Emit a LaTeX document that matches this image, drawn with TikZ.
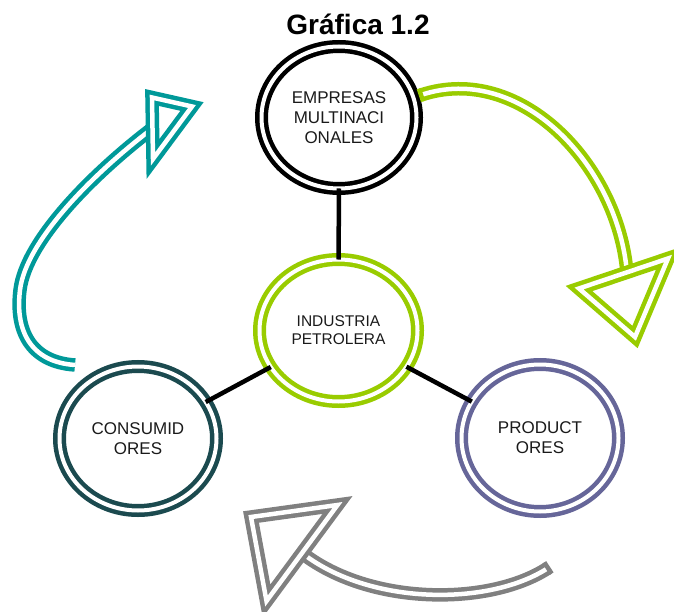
\documentclass[tikz,border=0pt]{standalone}
\usepackage{fontspec}
\setmainfont{Liberation Sans}
\usetikzlibrary{calc}
\usetikzlibrary{shapes.geometric}
\definecolor{tealarr}{RGB}{0,153,153}
\definecolor{limearr}{RGB}{153,204,0}
\definecolor{grayarr}{RGB}{128,128,128}
\definecolor{darkring}{RGB}{27,74,79}
\definecolor{purpring}{RGB}{102,102,153}
\definecolor{txt}{RGB}{26,26,26}
\tikzset{
  ring/.style={shape=ellipse, draw=#1, line width=4.5pt, double=white, double distance=4pt,
    minimum width=157pt, minimum height=144pt, inner sep=0pt, outer sep=0pt,
    align=center, text=txt, font=\fontsize{17}{20}\selectfont},
  hollow/.style={draw=#1, line width=4.5pt, double=white, double distance=4.5pt},
  link/.style={line width=4.5pt, black}
}
\newcommand{\arrhead}[4]{\draw[hollow=#1, fill=white] (#2) -- (#3) -- (#4) -- cycle;}
\newcommand{\tailcap}[3]{\draw[#1, line width=4.5pt] ($(#2)!6.75pt!90:(#3)$) -- ($(#2)!6.75pt!-90:(#3)$);}

\begin{document}
\begin{tikzpicture}[x=1pt,y=-1pt]
        \useasboundingbox (0,0) rectangle (674,612);

        \node[font=\fontsize{28}{32}\selectfont\bfseries, anchor=base, inner sep=0pt] (title) at (358,35) {Gráfica 1.2};

        \node[ring=black, minimum width=155pt, minimum height=142pt] (emp) at (339,117.5) {EMPRESAS\\MULTINACI\\ONALES};
        \node[ring=limearr, minimum width=158pt, minimum height=142pt, font=\fontsize{15.5}{18}\selectfont] (ind) at (338.5,330.5) {INDUSTRIA\\PETROLERA};
        \node[ring=darkring] (con) at (138,438.5) {CONSUMID\\ORES};
        \node[ring=purpring, minimum height=147pt] (pro) at (540,438) {PRODUCT\\ORES};

        \draw[link] (ind) -- (emp);
        \draw[link] (ind) -- (con);
        \draw[link] (ind) -- (pro);

        \coordinate (tt) at (75,365);
        \coordinate (tm) at (20,290);
        \coordinate (te) at (153,128);
        \draw[hollow=tealarr] (tt) .. controls (30,362) and (15,330) .. (tm) .. controls (26,240) and (95,172) .. (te);
        \arrhead{tealarr}{152,97.5}{192,106.5}{153,159}

        \coordinate (gt) at (421,95);
        \coordinate (ge) at (627,273);
        \draw[hollow=limearr] (gt) .. controls (520,62) and (618,165) .. (ge);
        \tailcap{limearr}{gt}{520,62}
        \arrhead{limearr}{579,288.5}{668,258.5}{635,337}

        \coordinate (rt) at (548,568);
        \coordinate (re) at (302,553);
        \draw[hollow=grayarr] (rt) .. controls (490,606) and (370,606) .. (re);
        \tailcap{grayarr}{rt}{490,606}
        \arrhead{grayarr}{251,517}{337.5,505}{266.5,601}
\end{tikzpicture}
\end{document}
